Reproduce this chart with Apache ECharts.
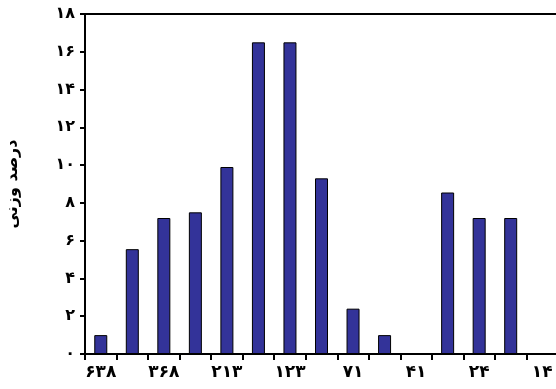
<!DOCTYPE html>
<html>
<head>
<meta charset="utf-8">
<script src="https://cdn.jsdelivr.net/npm/echarts@6/dist/echarts.min.js"></script>
<style>
  html, body { margin: 0; padding: 0; background: #fff; }
  #chart { width: 556px; height: 389px; }
</style>
</head>
<body>
<div id="chart"></div>
<script>
// Size classes (every other class boundary is labelled)
const categories = ['۶۳۸', '', '۳۶۸', '', '۲۱۳', '', '۱۲۳', '', '۷۱', '', '۴۱', '', '۲۴', '', '۱۴'];
// Weight percent per class
const weightPercent = [1.0, 5.55, 7.2, 7.5, 9.9, 16.5, 16.5, 9.3, 2.4, 1.0, 0, 8.55, 7.2, 7.2, 0];
// Y tick labels in Persian digits
const yTickLabels = { 0: '۰', 2: '۲', 4: '۴', 6: '۶', 8: '۸', 10: '۱۰', 12: '۱۲', 14: '۱۴', 16: '۱۶', 18: '۱۸' };
const yAxisTitle = 'درصد وزنی';

const font = "'DejaVu Sans', sans-serif";
const chart = echarts.init(document.getElementById('chart'), null, { renderer: 'canvas' });

chart.setOption({
  animation: false,
  backgroundColor: '#ffffff',
  grid: {
    // right edge of the frame sits just past the canvas, so only top, left and bottom show
    left: 85, top: 14, right: -2, bottom: 35,
    outerBoundsMode: 'none',
    containLabel: false,
    show: true, borderColor: '#000', borderWidth: 2
  },
  xAxis: {
    type: 'category',
    data: categories,
    boundaryGap: true,
    axisLine: { lineStyle: { color: '#000', width: 2 } },
    axisTick: { show: true, interval: 0, length: 6, lineStyle: { color: '#000', width: 2 } },
    axisLabel: {
      interval: 0, margin: 10, color: '#000',
      fontFamily: font, fontWeight: 'bold', fontSize: 17
    },
    splitLine: { show: false }
  },
  yAxis: {
    type: 'value',
    min: 0, max: 18, interval: 2,
    name: yAxisTitle,
    nameLocation: 'middle',
    nameRotate: 90,
    nameGap: 64,
    nameTextStyle: { fontFamily: font, fontWeight: 'bold', fontSize: 16, color: '#000' },
    axisLine: { show: true, lineStyle: { color: '#000', width: 2 } },
    axisTick: { show: true, length: 5, lineStyle: { color: '#000', width: 2 } },
    axisLabel: {
      margin: 10, color: '#000', fontFamily: font, fontWeight: 'bold', fontSize: 16,
      formatter: v => yTickLabels[v] !== undefined ? yTickLabels[v] : ''
    },
    splitLine: { show: false }
  },
  series: [{
    type: 'bar',
    data: weightPercent,
    barWidth: 13,
    itemStyle: { color: '#333399', borderColor: '#000', borderWidth: 1 }
  }]
});
</script>
</body>
</html>
